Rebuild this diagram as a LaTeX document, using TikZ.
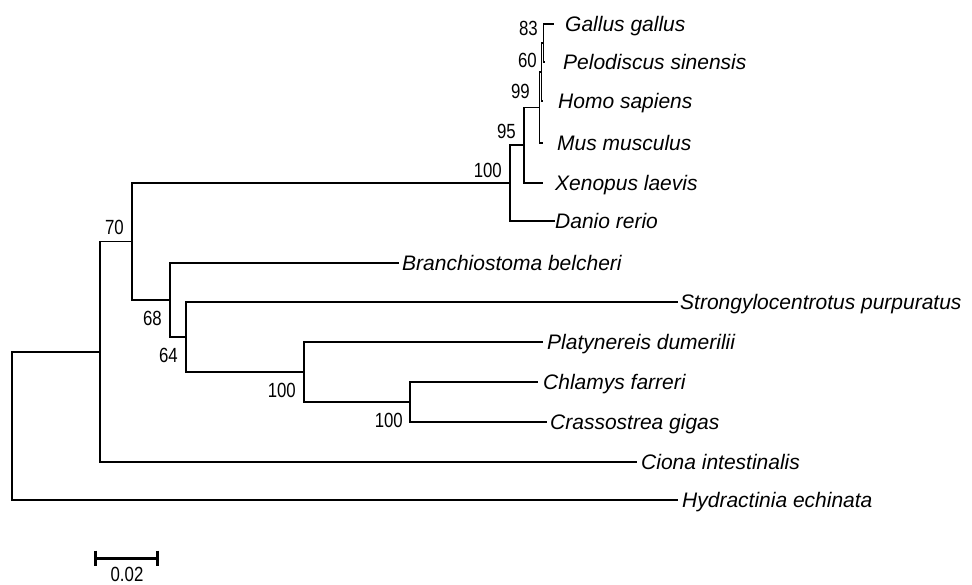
\documentclass[tikz,border=0pt]{standalone}
\usepackage{fontspec}
\setmainfont{Liberation Sans}
\newfontfamily\bootfont[FakeStretch=0.82]{Liberation Sans}
\newlength{\du}
\setlength{\du}{1pt}
\tikzset{
  branch/.style={line width=1.600000\du, draw=black},
  taxon/.style={anchor=base west, inner sep=0pt, font=\fontsize{21}{24}\selectfont\itshape},
  boot/.style={anchor=east, inner sep=0pt, font=\fontsize{20.5}{23}\bootfont},
  scalebar/.style={line width=3.000000\du, draw=black},
}
\begin{document}
\begin{tikzpicture}
\pgftransformxscale{1.000000}
\pgftransformyscale{-1.000000}
\useasboundingbox (0.000000\du,0.000000\du) rectangle (972.000000\du,585.000000\du);
% leaf ends
\coordinate (gallus) at (554.000000\du,24.000000\du);
\coordinate (pelodiscus) at (545.000000\du,62.000000\du);
\coordinate (homo) at (543.000000\du,101.000000\du);
\coordinate (mus) at (543.000000\du,143.000000\du);
\coordinate (xenopus) at (543.000000\du,183.000000\du);
\coordinate (danio) at (555.000000\du,221.000000\du);
\coordinate (branchio) at (399.000000\du,263.000000\du);
\coordinate (strongylo) at (678.000000\du,302.000000\du);
\coordinate (platynereis) at (543.000000\du,342.000000\du);
\coordinate (chlamys) at (538.000000\du,382.000000\du);
\coordinate (crassostrea) at (547.000000\du,422.000000\du);
\coordinate (ciona) at (637.000000\du,462.000000\du);
\coordinate (hydractinia) at (678.000000\du,500.000000\du);
% inner nodes
\coordinate (n83) at (543.500000\du,43.000000\du);
\coordinate (n60) at (541.500000\du,72.000000\du);
\coordinate (n99) at (539.500000\du,107.500000\du);
\coordinate (n95) at (524.000000\du,145.250000\du);
\coordinate (n100a) at (510.000000\du,183.000000\du);
\coordinate (n100c) at (410.000000\du,402.000000\du);
\coordinate (n100b) at (304.000000\du,372.000000\du);
\coordinate (n64) at (186.000000\du,337.000000\du);
\coordinate (n68) at (170.000000\du,300.000000\du);
\coordinate (n70) at (132.000000\du,241.500000\du);
\coordinate (nci) at (100.000000\du,351.750000\du);
\coordinate (root) at (12.000000\du,426.000000\du);
% branches
\draw[branch] (n83) |- (gallus) (n83) |- (pelodiscus);
\draw[branch] (n60) |- (n83) (n60) |- (homo);
\draw[branch] (n99) |- (n60) (n99) |- (mus);
\draw[branch] (n95) |- (n99) (n95) |- (xenopus);
\draw[branch] (n100a) |- (n95) (n100a) |- (danio);
\draw[branch] (n100c) |- (chlamys) (n100c) |- (crassostrea);
\draw[branch] (n100b) |- (platynereis) (n100b) |- (n100c);
\draw[branch] (n64) |- (strongylo) (n64) |- (n100b);
\draw[branch] (n68) |- (branchio) (n68) |- (n64);
\draw[branch] (n70) |- (n100a) (n70) |- (n68);
\draw[branch] (nci) |- (n70) (nci) |- (ciona);
\draw[branch] (root) |- (nci) (root) |- (hydractinia);
% taxa
\node[taxon] (t-gallus) at (565.000000\du,31.500000\du) {Gallus gallus};
\node[taxon] (t-pelodiscus) at (563.000000\du,69.500000\du) {Pelodiscus sinensis};
\node[taxon] (t-homo) at (558.000000\du,108.500000\du) {Homo sapiens};
\node[taxon] (t-mus) at (557.000000\du,150.500000\du) {Mus musculus};
\node[taxon] (t-xenopus) at (555.000000\du,190.500000\du) {Xenopus laevis};
\node[taxon] (t-danio) at (555.000000\du,228.500000\du) {Danio rerio};
\node[taxon] (t-branchio) at (402.000000\du,270.500000\du) {Branchiostoma belcheri};
\node[taxon] (t-strongylo) at (680.000000\du,309.500000\du) {Strongylocentrotus purpuratus};
\node[taxon] (t-platynereis) at (547.000000\du,349.500000\du) {Platynereis dumerilii};
\node[taxon] (t-chlamys) at (543.000000\du,389.500000\du) {Chlamys farreri};
\node[taxon] (t-crassostrea) at (550.000000\du,429.500000\du) {Crassostrea gigas};
\node[taxon] (t-ciona) at (641.000000\du,469.500000\du) {Ciona intestinalis};
\node[taxon] (t-hydractinia) at (682.000000\du,507.500000\du) {Hydractinia echinata};
% bootstrap values
\node[boot] (b83) at (538.000000\du,28.000000\du) {83};
\node[boot] (b60) at (537.000000\du,60.000000\du) {60};
\node[boot] (b99) at (530.000000\du,91.000000\du) {99};
\node[boot] (b95) at (516.000000\du,131.000000\du) {95};
\node[boot] (b100a) at (502.000000\du,170.000000\du) {100};
\node[boot] (b70) at (124.000000\du,227.000000\du) {70};
\node[boot] (b68) at (162.000000\du,318.000000\du) {68};
\node[boot] (b64) at (178.000000\du,355.000000\du) {64};
\node[boot] (b100b) at (296.000000\du,390.000000\du) {100};
\node[boot] (b100c) at (403.000000\du,420.000000\du) {100};
% scale bar
\coordinate (sbl) at (95.000000\du,558.000000\du);
\coordinate (sbr) at (157.000000\du,558.000000\du);
\draw[scalebar] (sbl) -- (sbr);
\draw[scalebar] (sbl) ++(0\du,-7.500000\du) -- ++(0\du,15.000000\du);
\draw[scalebar] (sbr) ++(0\du,-7.500000\du) -- ++(0\du,15.000000\du);
\node[boot, anchor=center] (sblabel) at (127.000000\du,574.000000\du) {0.02};
\end{tikzpicture}
\end{document}
